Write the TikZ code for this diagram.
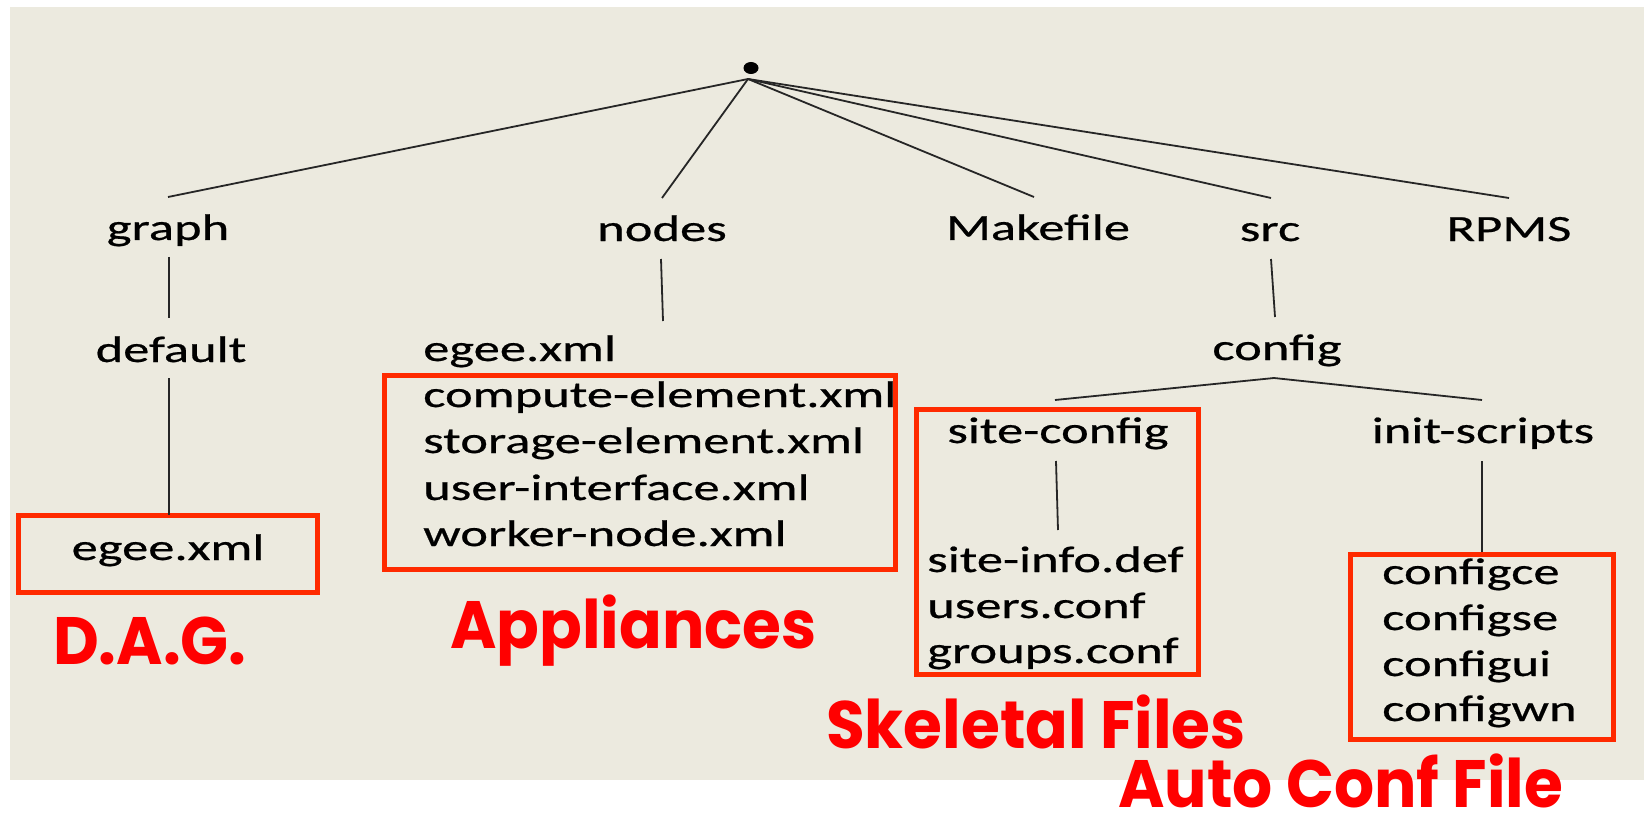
\documentclass[tikz,border=0pt]{standalone}
\usepackage{fontspec}
\setmainfont{Carlito}
\newfontfamily\blkfont[FakeStretch=1.42,FakeBold=0.6]{Carlito}
\newfontfamily\redfont[FakeStretch=0.94]{Poppins}
\usetikzlibrary{positioning,shapes.geometric}
\definecolor{bgbeige}{RGB}{236,234,223}
\definecolor{boxred}{RGB}{255,42,0}
\definecolor{lblred}{RGB}{255,0,0}
\tikzset{
  txt/.style={inner sep=0pt, anchor=base, font=\blkfont\fontsize{37}{44}\selectfont, text=black},
  txtw/.style={txt, anchor=base west},
  lbl/.style={inner sep=0pt, anchor=base west, font=\redfont\bfseries\fontsize{67}{70}\selectfont, text=lblred},
  redbox/.style={draw=boxred, line width=5pt, inner sep=0pt, outer sep=2.5pt},
  conn/.style={draw=black!85, line width=1.8pt},
}
\begin{document}
\begin{tikzpicture}[x=1pt,y=-1pt]
\useasboundingbox (0,0) rectangle (1644,813);
\fill[bgbeige] (10,7) rectangle (1644,780);

% root
\node[fill=black, ellipse, inner sep=0pt, minimum width=15pt, minimum height=12pt] (rootdot) at (751,68) {};
\coordinate (root) at (748,79);

% first level
\node[txt] (graph) at (168,240) {graph};
\node[txt] (nodes) at (662,241) {nodes};
\node[txt] (makefile) at (1038,240) {Makefile};
\node[txt] (src) at (1270,241) {src};
\node[txt] (rpms) at (1509,241) {RPMS};

\coordinate (graphin) at (168,197);
\coordinate (nodesin) at (662,198);
\coordinate (makein) at (1034,197);
\coordinate (srcin) at (1271,198);
\coordinate (rpmsin) at (1509,198);
\draw[conn] (root) -- (graphin);
\draw[conn] (root) -- (nodesin);
\draw[conn] (root) -- (makein);
\draw[conn] (root) -- (srcin);
\draw[conn] (root) -- (rpmsin);

% graph branch
\node[txt] (default) at (171,362) {default};
\coordinate (graphout) at (169,257);
\coordinate (defaultin) at (169,318);
\draw[conn] (graphout) -- (defaultin);
\node[redbox, minimum width=299pt, minimum height=77pt] (dagbox) at (168,554) {};
\node[txt] (egeedag) at (168,560) {egee.xml};
\coordinate (defaultout) at (169,378);
\draw[conn] (defaultout) -- (169,515);

% nodes branch
\coordinate (nodesout) at (661,259);
\coordinate (nodesend) at (663,321);
\draw[conn] (nodesout) -- (nodesend);
\node[txtw] (egee) at (423,361) {egee.xml};
\node[redbox, minimum width=511pt, minimum height=194pt] (appbox) at (640,472.5) {};
\node[txtw] (ce) at (423,407) {compute-element.xml};
\node[txtw] (se) at (423,453) {storage-element.xml};
\node[txtw] (ui) at (423,500) {user-interface.xml};
\node[txtw] (wn) at (423,546) {worker-node.xml};

% src branch
\node[txt] (config) at (1277,360) {config};
\coordinate (srcout) at (1271,259);
\coordinate (configin) at (1275,317);
\draw[conn] (srcout) -- (configin);
\coordinate (configout) at (1274,378);
\coordinate (sitein) at (1055,400);
\coordinate (initin) at (1482,400);
\draw[conn] (configout) -- (sitein);
\draw[conn] (configout) -- (initin);

\node[redbox, minimum width=282pt, minimum height=265pt] (skelbox) at (1057.5,542) {};
\node[txt] (siteconfig) at (1058,443) {site-config};
\coordinate (siteout) at (1056,461);
\coordinate (siteend) at (1058,530);
\draw[conn] (siteout) -- (siteend);
\node[txtw] (siteinfo) at (927,572) {site-info.def};
\node[txtw] (users) at (927,618) {users.conf};
\node[txtw] (groups) at (927,663) {groups.conf};

\node[txt] (initscripts) at (1483,443) {init-scripts};
\node[redbox, minimum width=263pt, minimum height=185pt] (autobox) at (1482,647) {};
\coordinate (initout) at (1482,461);
\draw[conn] (initout) -- (autobox.north);
\node[txtw] (cce) at (1382,584) {configce};
\node[txtw] (cse) at (1382,630) {configse};
\node[txtw] (cui) at (1382,676) {configui};
\node[txtw] (cwn) at (1382,721) {configwn};

% red labels
\node[lbl] (dag) at (53,664) {D.A.G.};
\node[lbl] (appl) at (450,648) {Appliances};
\node[lbl] (skel) at (826,748) {Skeletal Files};
\node[lbl] (auto) at (1118,807) {Auto Conf File};
\end{tikzpicture}
\end{document}
